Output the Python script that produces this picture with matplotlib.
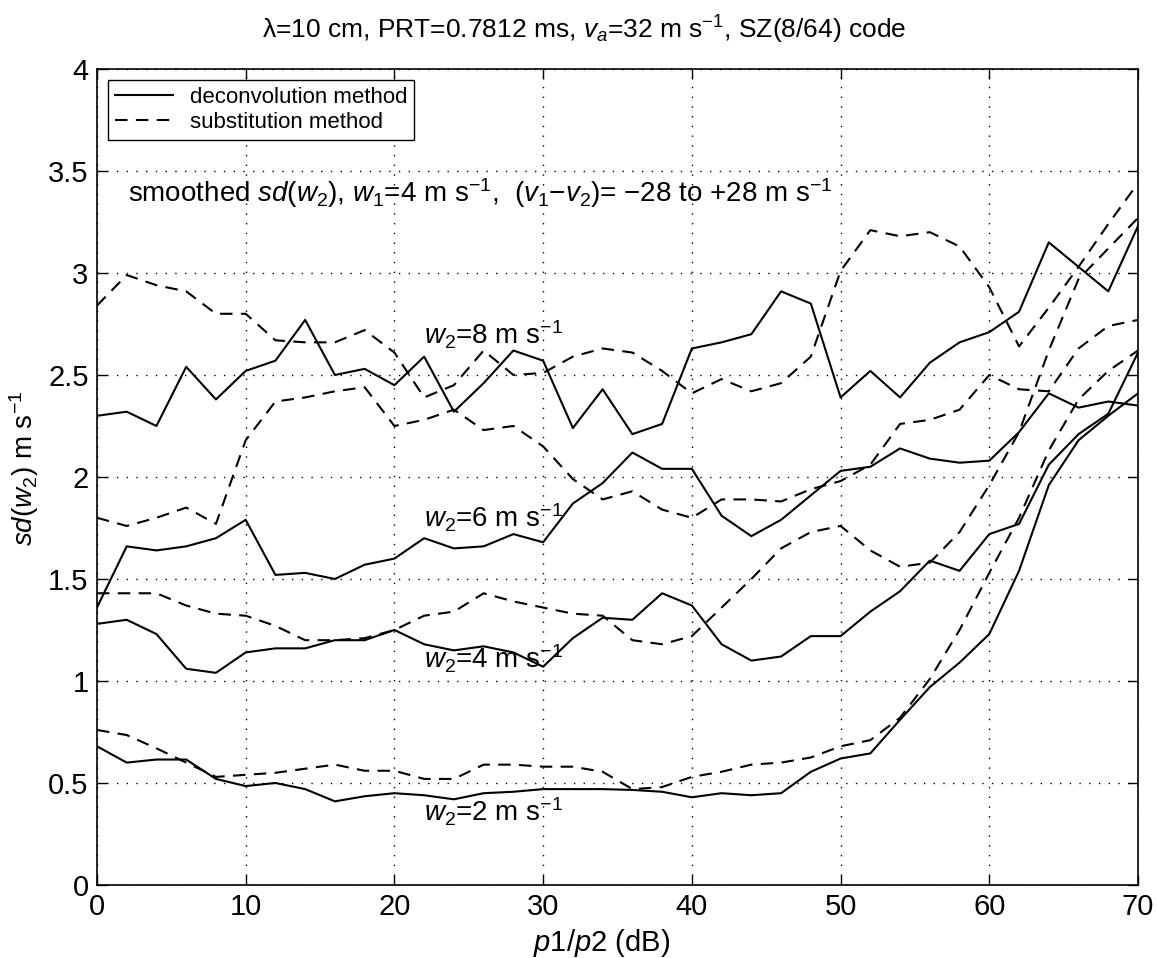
import numpy as np
import matplotlib
matplotlib.use('Agg')
import matplotlib.pyplot as plt

plt.rcParams['font.family'] = ['Liberation Sans', 'DejaVu Sans']
plt.rcParams['mathtext.fontset'] = 'custom'
plt.rcParams['mathtext.rm'] = 'Liberation Sans'
plt.rcParams['mathtext.it'] = 'Liberation Sans:italic'

# p1/p2 in dB
p_ratio = list(range(0, 72, 2))

# deconvolution method (solid)
deconv_w8 = [2.30, 2.32, 2.25, 2.54, 2.38, 2.52, 2.57, 2.77, 2.50, 2.53, 2.45, 2.59,
             2.32, 2.46, 2.62, 2.57, 2.24, 2.43, 2.21, 2.26, 2.63, 2.66, 2.70, 2.91,
             2.85, 2.39, 2.52, 2.39, 2.56, 2.66, 2.71, 2.81, 3.15, 3.03, 2.91, 3.23]
deconv_w6 = [1.36, 1.66, 1.64, 1.66, 1.70, 1.79, 1.52, 1.53, 1.50, 1.57, 1.60, 1.70,
             1.65, 1.66, 1.72, 1.68, 1.87, 1.97, 2.12, 2.04, 2.04, 1.81, 1.71, 1.79,
             1.91, 2.03, 2.05, 2.14, 2.09, 2.07, 2.08, 2.22, 2.41, 2.34, 2.37, 2.35]
deconv_w4 = [1.28, 1.30, 1.23, 1.06, 1.04, 1.14, 1.16, 1.16, 1.20, 1.20, 1.25, 1.18,
             1.15, 1.17, 1.14, 1.07, 1.21, 1.31, 1.30, 1.43, 1.37, 1.18, 1.10, 1.12,
             1.22, 1.22, 1.34, 1.44, 1.59, 1.54, 1.72, 1.77, 2.06, 2.21, 2.31, 2.61]
deconv_w2 = [0.68, 0.60, 0.615, 0.615, 0.52, 0.485, 0.50, 0.47, 0.41, 0.435, 0.45, 0.44,
             0.42, 0.45, 0.457, 0.47, 0.47, 0.47, 0.466, 0.457, 0.43, 0.45, 0.44, 0.45,
             0.555, 0.62, 0.645, 0.81, 0.97, 1.09, 1.23, 1.54, 1.96, 2.18, 2.30, 2.41]

# substitution method (dashed)
subst_w8 = [2.84, 2.99, 2.94, 2.91, 2.80, 2.80, 2.67, 2.66, 2.66, 2.72, 2.61, 2.39,
            2.45, 2.62, 2.50, 2.51, 2.59, 2.63, 2.61, 2.52, 2.41, 2.48, 2.42, 2.46,
            2.59, 3.01, 3.21, 3.18, 3.20, 3.13, 2.93, 2.64, 2.83, 3.03, 3.24, 3.44]
subst_w6 = [1.80, 1.76, 1.80, 1.85, 1.77, 2.18, 2.37, 2.39, 2.42, 2.44, 2.25, 2.28,
            2.33, 2.23, 2.25, 2.15, 1.99, 1.89, 1.93, 1.84, 1.80, 1.89, 1.89, 1.88,
            1.94, 1.98, 2.06, 2.26, 2.28, 2.33, 2.50, 2.43, 2.42, 2.63, 2.74, 2.77]
subst_w4 = [1.43, 1.43, 1.43, 1.37, 1.33, 1.32, 1.27, 1.20, 1.20, 1.21, 1.25, 1.32,
            1.34, 1.43, 1.39, 1.36, 1.33, 1.32, 1.20, 1.18, 1.22, 1.36, 1.50, 1.65,
            1.73, 1.76, 1.64, 1.56, 1.58, 1.73, 1.96, 2.22, 2.62, 2.97, 3.12, 3.27]
subst_w2 = [0.76, 0.735, 0.67, 0.60, 0.53, 0.54, 0.55, 0.57, 0.59, 0.56, 0.56, 0.52,
            0.52, 0.59, 0.59, 0.58, 0.58, 0.555, 0.47, 0.48, 0.53, 0.555, 0.59, 0.60,
            0.625, 0.68, 0.71, 0.82, 1.01, 1.25, 1.53, 1.80, 2.13, 2.38, 2.52, 2.62]

curve_labels = [r'$w_2$=8 m s$^{-1}$', r'$w_2$=6 m s$^{-1}$',
                r'$w_2$=4 m s$^{-1}$', r'$w_2$=2 m s$^{-1}$']
label_pos = [(22.0, 2.65), (22.0, 1.75), (22.0, 1.06), (22.0, 0.31)]

fig = plt.figure(figsize=(11.57, 9.58), dpi=100)
ax = fig.add_axes([0.0838, 0.0762, 0.8998, 0.8518])

lw = 1.5
for i, y in enumerate([deconv_w8, deconv_w6, deconv_w4, deconv_w2]):
    ax.plot(p_ratio, y, color='black', lw=lw,
            label='deconvolution method' if i == 0 else None)
for i, y in enumerate([subst_w8, subst_w6, subst_w4, subst_w2]):
    ax.plot(p_ratio, y, color='black', lw=lw, dashes=(6, 4),
            label='substitution method' if i == 0 else None)

for txt, (tx, ty) in zip(curve_labels, label_pos):
    ax.text(tx, ty, txt, fontsize=20, va='baseline', ha='left')

ax.text(2.1, 3.35, r'smoothed $sd(w_2)$, $w_1$=4 m s$^{-1}$,  ($v_1$−$v_2$)= −28 to +28 m s$^{-1}$',
        fontsize=20, va='baseline', ha='left')

ax.set_xlim(0, 70)
ax.set_ylim(0, 4)
ax.set_xticks(range(0, 71, 10))
ax.set_yticks(np.arange(0, 4.01, 0.5))
ax.set_yticklabels(['0', '0.5', '1', '1.5', '2', '2.5', '3', '3.5', '4'])
ax.tick_params(direction='in', top=True, right=True, labelsize=21, length=7, width=1, pad=6)
ax.grid(True, color='black', linestyle=(0, (1, 6)), lw=1)
for s in ax.spines.values():
    s.set_linewidth(1.2)

ax.set_xlabel(r'$p1/p2$ (dB)', fontsize=21)
ax.xaxis.set_label_coords(0.485, -0.052)
ax.set_ylabel(r'$sd(w_2)$ m s$^{-1}$', fontsize=20)
ax.yaxis.set_label_coords(-0.054, 0.51)
ax.set_title(r'λ=10 cm, PRT=0.7812 ms, $v_a$=32 m s$^{-1}$, SZ(8/64) code',
             fontsize=19, pad=22, x=0.468)

leg = ax.legend(loc='upper left', fontsize=16, fancybox=False, framealpha=1,
                edgecolor='black', borderaxespad=0.5, handlelength=2.6,
                borderpad=0.3, labelspacing=0.2)
leg.get_frame().set_linewidth(1.0)

fig.savefig('out.png', dpi=100)
